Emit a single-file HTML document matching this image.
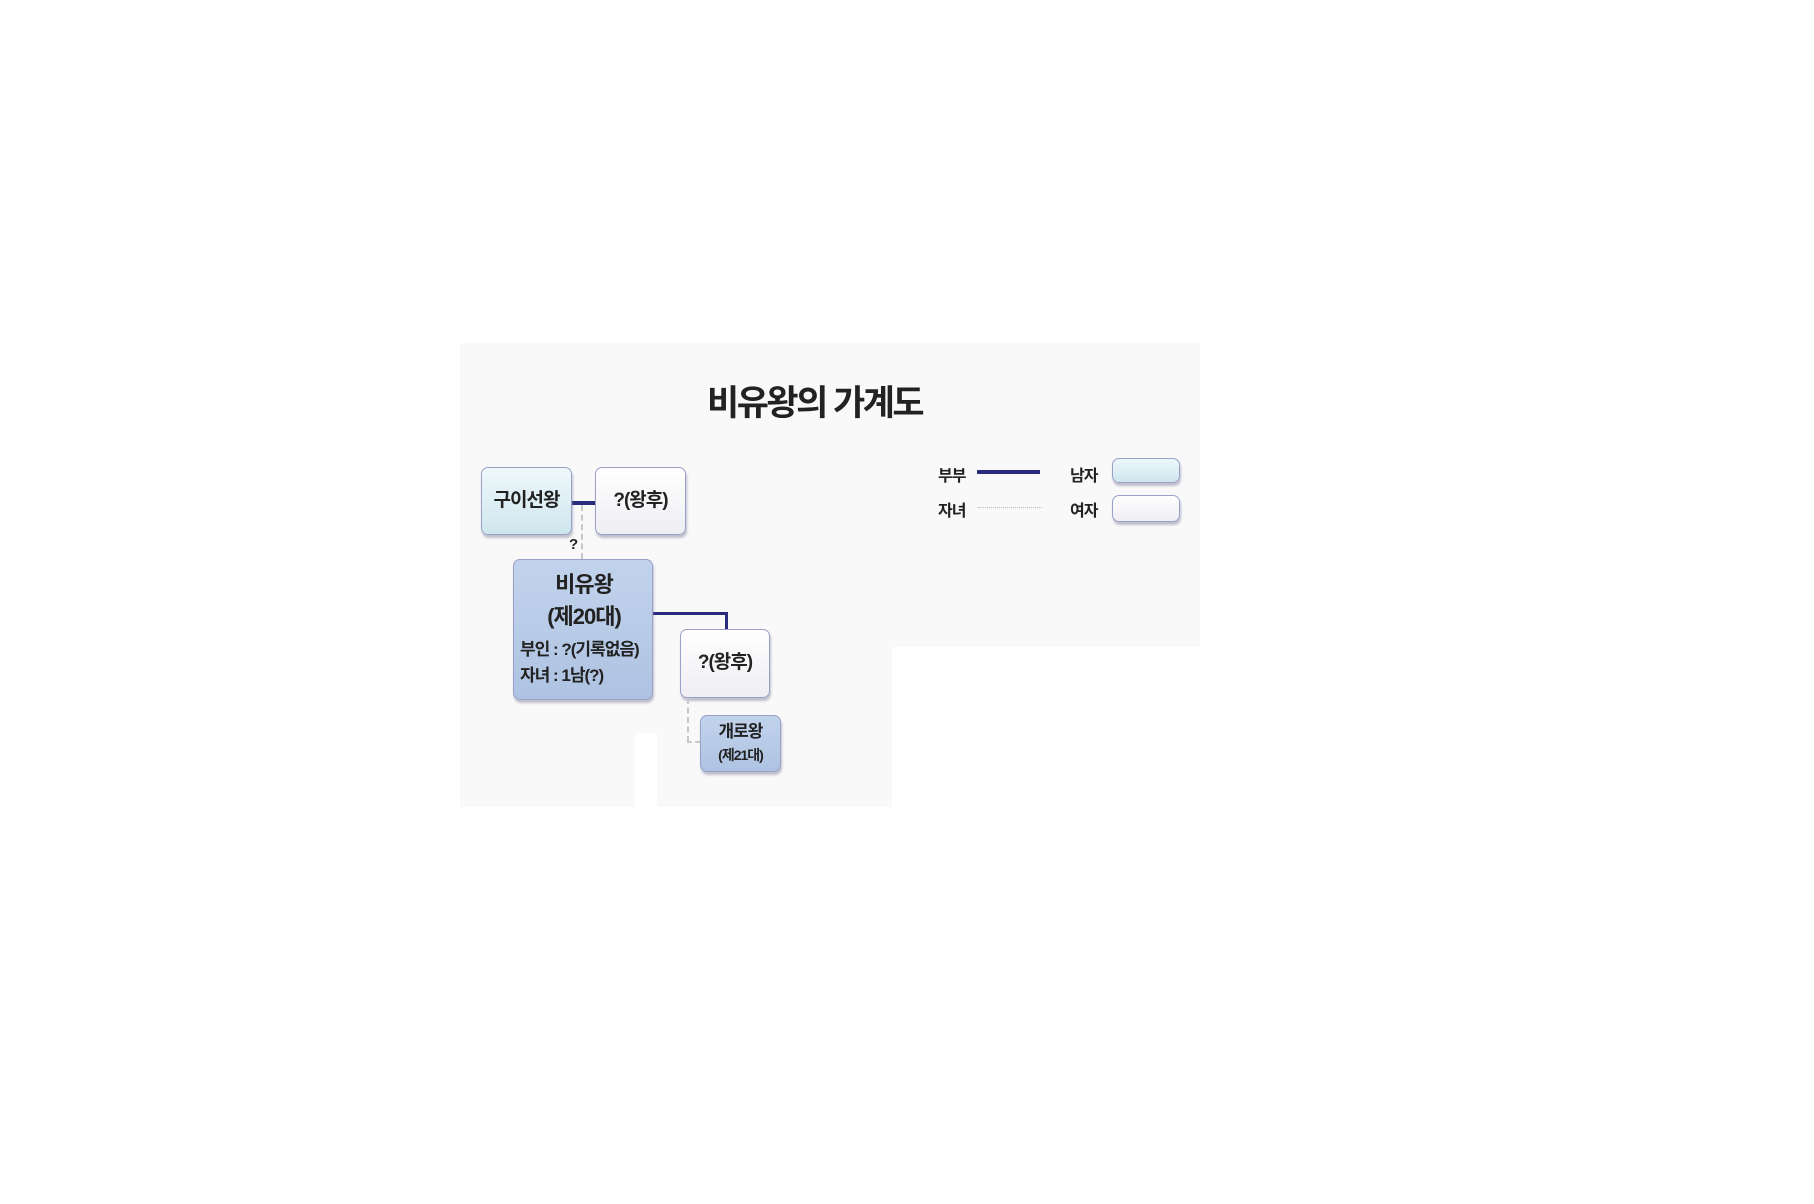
<!DOCTYPE html>
<html><head><meta charset="utf-8"><style>
body{margin:0;width:1814px;height:1204px;background:#fff;position:relative;overflow:hidden;font-family:"Liberation Sans","Noto Sans CJK KR",sans-serif;}
.a{position:absolute}
.bg{background:#f9f9fa}
.box{position:absolute;box-sizing:border-box;border:1.5px solid #9aa0c8;border-radius:7px;box-shadow:1px 3px 2px rgba(120,120,150,.45);display:flex;flex-direction:column;align-items:center;justify-content:center;font-weight:bold;color:#222;line-height:1.1;}
.m{background:linear-gradient(#eef8fb,#cfe6ee)}
.f{background:linear-gradient(#ffffff,#eeeef3)}
.k{background:linear-gradient(#c2d3ec,#aec3e2)}
.t{position:absolute;font-weight:bold;color:#222;white-space:nowrap}
</style></head><body>
<div class="a bg" style="left:460px;top:343px;width:740px;height:304px"></div>
<div class="a bg" style="left:460px;top:647px;width:432px;height:86px"></div>
<div class="a bg" style="left:460px;top:733px;width:175px;height:74px"></div>
<div class="a bg" style="left:657px;top:733px;width:235px;height:74px"></div>

<div class="t" style="left:707px;top:375px;font-size:35px;letter-spacing:-2.5px">비유왕의 가계도</div>

<div class="a" style="left:572px;top:501px;width:23px;height:4px;background:#2b2b7c"></div>
<div class="a" style="left:581px;top:505px;height:54px;border-left:2px dashed #c8c8c8"></div>
<div class="t" style="left:569px;top:536px;font-size:15px">?</div>

<div class="box m" style="left:481px;top:467px;width:91px;height:68px;font-size:19px;letter-spacing:-1px">구이선왕</div>
<div class="box f" style="left:595px;top:467px;width:91px;height:68px;font-size:19px;letter-spacing:-1px">?(왕후)</div>

<div class="a" style="left:653px;top:612px;width:74px;height:3px;background:#2b2b7c"></div>
<div class="a" style="left:725px;top:612px;width:3px;height:18px;background:#2b2b7c"></div>

<div class="box k" style="left:513px;top:559px;width:140px;height:141px;font-size:22px;letter-spacing:-1px;align-items:flex-start;padding-left:6px">
<div style="width:128px;text-align:center">비유왕</div>
<div style="width:128px;text-align:center;margin-top:8px">(제20대)</div>
<div style="font-size:17px;margin-top:11px">부인 : ?(기록없음)</div>
<div style="font-size:17px;margin-top:8px">자녀 : 1남(?)</div>
</div>

<div class="box f" style="left:680px;top:629px;width:90px;height:69px;font-size:19px;letter-spacing:-1px">?(왕후)</div>

<div class="a" style="left:687px;top:698px;height:44px;border-left:2px dashed #c8c8c8"></div>
<div class="a" style="left:687px;top:741px;width:13px;border-top:2px dashed #c8c8c8"></div>
<div class="box k" style="left:700px;top:715px;width:81px;height:57px;font-size:17px;letter-spacing:-1px">
<div>개로왕</div><div style="font-size:14px;margin-top:6px">(제21대)</div></div>

<div class="t" style="left:938px;top:462px;font-size:16px;letter-spacing:-1px">부부</div>
<div class="a" style="left:977px;top:470px;width:63px;height:4px;background:#2b2b7c"></div>
<div class="t" style="left:1070px;top:462px;font-size:16px;letter-spacing:-1px">남자</div>
<div class="box m" style="left:1112px;top:458px;width:68px;height:25px"></div>
<div class="t" style="left:938px;top:497px;font-size:16px;letter-spacing:-1px">자녀</div>
<div class="a" style="left:978px;top:507px;width:64px;border-top:1px dotted #bbb"></div>
<div class="t" style="left:1070px;top:497px;font-size:16px;letter-spacing:-1px">여자</div>
<div class="box f" style="left:1112px;top:495px;width:68px;height:27px"></div>
</body></html>
